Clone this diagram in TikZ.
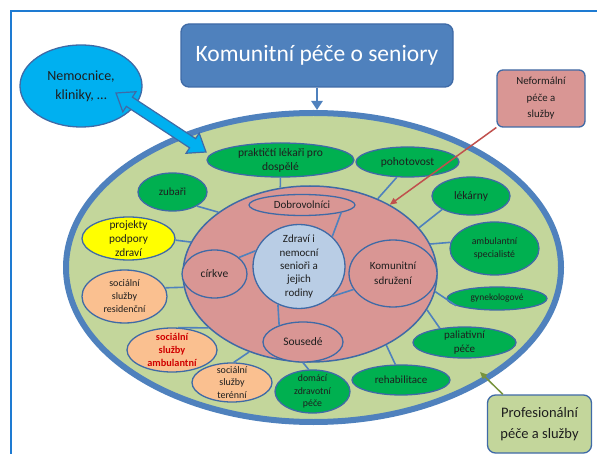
\documentclass[tikz,border=0pt]{standalone}
\usepackage{fontspec}
\setmainfont{Carlito}
\usetikzlibrary{shapes.geometric,arrows.meta}
\definecolor{ringb}{HTML}{4F81BD}
\definecolor{nodeb}{HTML}{3F6AA6}
\definecolor{lgreen}{HTML}{C3D69B}
\definecolor{gn}{HTML}{00B050}
\definecolor{pinkc}{HTML}{D99694}
\definecolor{lblue}{HTML}{B9CDE5}
\definecolor{peach}{HTML}{FAC090}
\definecolor{yel}{HTML}{FFFF00}
\definecolor{cyanc}{HTML}{00B0F0}
\definecolor{frame}{HTML}{1E7BD2}
\definecolor{redarr}{HTML}{C0504D}
\definecolor{grarr}{HTML}{77933C}
\definecolor{txtc}{HTML}{1E1E1E}
\definecolor{redtxt}{HTML}{D00000}
\tikzset{
  ell/.style n args={3}{ellipse, draw=nodeb, line width=1.3pt, fill=#3,
    minimum width=#1, minimum height=#2, inner sep=0pt},
  txt/.style={align=center, text=txtc, inner sep=0pt},
  conn/.style={draw=ringb, line width=1.6pt},
  fs/.style 2 args={font=\fontsize{#1}{#2}\selectfont}
}
\begin{document}
\begin{tikzpicture}[x=1pt,y=-1pt]
\useasboundingbox (0,0) rectangle (597,454);
% frame
\coordinate (f1) at (11,454);
\coordinate (f2) at (11,11);
\coordinate (f3) at (597,11);
\draw[frame, line width=1.5pt] (f1) -- (f2) -- (f3);

% outer ring
\node[ellipse, draw=ringb, line width=6pt, fill=lgreen, minimum width=495, minimum height=309, inner sep=0pt] (ring) at (313.5,267.5) {};
% pink ellipse
\node[ell={254}{176}{pinkc}, line width=1.5pt] (pink) at (310,274) {};

% inner nodes
\node[ell={92}{84}{lblue}, label={[txt, fs={11}{13.3}]center:{Zdraví i\\nemocní\\senioři a\\jejich\\rodiny}}] (cen) at (299,266.5) {};
\node[ell={106}{21}{pinkc}, label={[txt, fs={11}{13}]center:{Dobrovolníci}}] (dob) at (302,205) {};
\node[ell={65}{48}{pinkc}, label={[txt, fs={11.5}{13}]center:{církve}}] (cir) at (214.5,274) {};
\node[ell={88}{67}{pinkc}, label={[txt, fs={11}{14.5}]center:{Komunitní\\sdružení}}] (kom) at (393,273.5) {};
\node[ell={80}{40}{pinkc}, label={[txt, fs={11.5}{13}]center:{Sousedé}}] (sou) at (303,342) {};

% outer nodes
\node[ell={147}{34}{gn}, label={[txt, fs={11.5}{14}]center:{praktičtí lékaři pro\\dospělé}}] (pra) at (280.5,160) {};
\node[ell={103}{30}{gn}, label={[txt, fs={11.5}{13}]center:{pohotovost}}] (poh) at (407.5,162) {};
\node[ell={78}{38}{gn}, label={[txt, fs={11.5}{13}]center:{lékárny}}] (lek) at (471,196) {};
\node[ell={89}{53}{gn}, label={[txt, fs={9.8}{12.5}]center:{ambulantní\\specialisté}}] (amb) at (494.5,248.5) {};
\node[ell={100}{23}{gn}, label={[txt, fs={9.5}{11}]center:{gynekologové}}] (gyn) at (497,298.5) {};
\node[ell={103}{31}{gn}, label={[txt, fs={11}{14.5}]center:{paliativní\\péče}}] (pal) at (464.5,342.5) {};
\node[ell={98}{30}{gn}, label={[txt, fs={11}{13}]center:{rehabilitace}}] (reh) at (401,380) {};
\node[ell={75}{43}{gn}, label={[txt, fs={9.8}{12.8}]center:{domácí\\zdravotní\\péče}}] (dom) at (312.5,391.5) {};
\node[ell={80}{39}{peach}, label={[txt, fs={10}{12.3}]center:{sociální\\služby\\terénní}}] (ter) at (232,382.5) {};
\node[ell={90}{44}{peach}, label={[txt, text=redtxt, font=\bfseries\fontsize{10.3}{13}\selectfont]center:{sociální\\služby\\ambulantní}}] (ambs) at (172,350) {};
\node[ell={85}{53}{peach}, label={[txt, fs={10}{13}]center:{sociální\\služby\\residenční}}] (res) at (124.5,296.5) {};
\node[ell={93}{43}{yel}, label={[txt, fs={11.3}{14}]center:{projekty\\podpory\\zdraví}}] (pro) at (128.5,238.5) {};
\node[ell={69}{38}{gn}, label={[txt, fs={11}{13}]center:{zubaři}}] (zub) at (172.5,192) {};

% inner connectors
\draw[conn] (cen.42) -- (dob.-11);
\draw[conn] (cen.160) -- (cir.34);
\draw[conn] (cen.-42) -- (kom.202);
\draw[conn] (cen.241) -- (sou.145);
% outer connectors
\draw[conn] (pra) -- (pink.109);
\draw[conn] (poh.235) -- (pink.48);
\draw[conn] (lek.205) -- (pink.23);
\draw[conn] (amb.172) -- (pink.14);
\draw[conn] (gyn.190) -- (pink.-8);
\draw[conn] (pal.150) -- (pink.-17);
\draw[conn] (reh.110) -- (pink.-43);
\draw[conn] (sou.south) -- (dom.100);
\draw[conn] (ter.85) -- (pink.232);
\draw[conn] (ambs.75) -- (pink.208);
\draw[conn] (res.12) -- (pink.186);
\draw[conn] (pro.-2) -- (pink.165);
\draw[conn] (zub.-30) -- (pink.146);

% title
\node[draw=nodeb, line width=1.3pt, fill=ringb, rounded corners=8pt, minimum width=272, minimum height=63, inner sep=0pt,
  text=white, font=\fontsize{23.5}{27}\selectfont] (title) at (317,55.5) {Komunitní péče o seniory};
\draw[ringb, line width=2.5pt, -{Triangle[length=9pt,width=11pt]}] (title.south) -- (title.south |- ring.north);

% Nemocnice
\node[ell={122}{82}{cyanc}, label={[txt, fs={14}{19}]center:{Nemocnice,\\kliniky, …}}] (nem) at (81,86) {};
% block double arrow
\coordinate (ba1) at (116,93);
\coordinate (ba2) at (206,152);
\draw[draw=nodeb, line width=1.2pt, fill=cyanc, line join=miter]
  (ba1) -- (122.80,111.81) -- (126.36,106.37) -- (189.60,147.83) -- (186.04,153.27)
  -- (ba2) -- (199.20,133.19) -- (195.64,138.63) -- (132.40,97.17) -- (135.96,91.73) -- cycle;

% Neformalni
\node[draw=nodeb, line width=1.3pt, fill=pinkc, rounded corners=6pt, minimum width=88, minimum height=57, inner sep=0pt,
  txt, fs={10.8}{16.5}] (nef) at (541,98.5) {Neformální\\péče a\\služby};
\draw[redarr, line width=1.5pt, -{Triangle[length=7pt,width=6pt]}] (nef.213) -- (pink.41);

% Profesionalni
\node[draw=nodeb, line width=1.3pt, fill=lgreen, rounded corners=8pt, minimum width=104, minimum height=58, inner sep=0pt,
  txt, fs={14.5}{21}] (prof) at (539.5,424) {Profesionální\\péče a služby};
\coordinate (gtip) at (480,372);
\draw[grarr, line width=1.5pt, -{Triangle[length=7pt,width=6pt]}] (prof.141) -- (gtip);
\end{tikzpicture}
\end{document}
